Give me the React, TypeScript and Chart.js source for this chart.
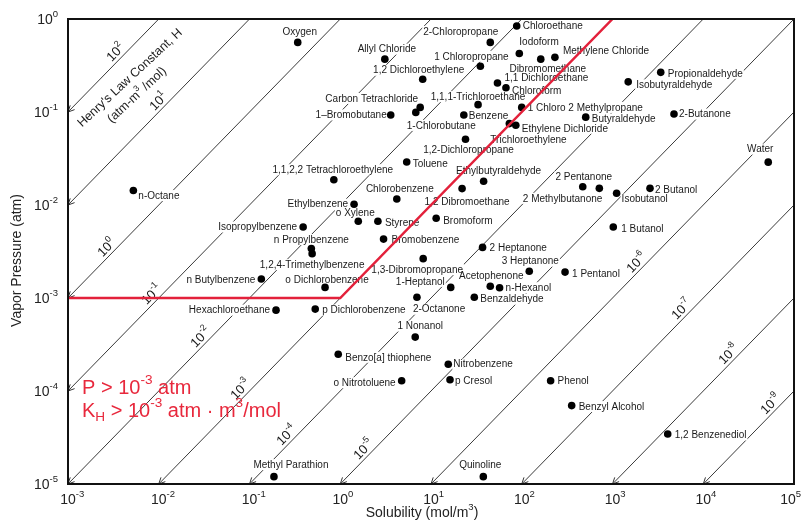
import React, { useEffect, useRef } from "react";
import { Chart, registerables } from "chart.js";

Chart.register(...registerables);

const FONT = "'Liberation Sans', Arial, Helvetica, sans-serif";

// ---------- data ----------
const compounds = [
  "Oxygen", "Allyl Chloride", "1,2 Dichloroethylene", "2-Chloropropane", "1 Chloropropane",
  "Chloroethane", "Iodoform", "Dibromomethane", "Methylene Chloride", "1,1 Dichloroethane",
  "Chloroform", "1,1,1-Trichloroethane", "Carbon Tetrachloride", "1-Chlorobutane", "1–Bromobutane",
  "Benzene", "1 Chloro 2 Methylpropane", "Ethylene Dichloride", "Trichloroethylene", "1,2-Dichloropropane",
  "Toluene", "Ethylbutyraldehyde", "1,2 Dibromoethane", "Chlorobenzene", "Bromoform",
  "1,1,2,2 Tetrachloroethylene", "Ethylbenzene", "o Xylene", "Styrene", "Isopropylbenzene",
  "n Propylbenzene", "1,2,4-Trimethylbenzene", "Bromobenzene", "n Butylbenzene", "o Dichlorobenzene",
  "1,3-Dibromopropane", "1-Heptanol", "2-Octanone", "p Dichlorobenzene", "Hexachloroethane",
  "1 Nonanol", "2 Heptanone", "3 Heptanone", "Acetophenone", "n-Hexanol",
  "Benzaldehyde", "1 Pentanol", "1 Butanol", "2 Pentanone", "2 Methylbutanone",
  "Isobutanol", "2 Butanol", "Water", "Propionaldehyde", "Isobutyraldehyde",
  "Butyraldehyde", "2-Butanone", "Benzo[a] thiophene", "o Nitrotoluene", "Nitrobenzene",
  "p Cresol", "Methyl Parathion", "Quinoline", "Phenol", "Benzyl Alcohol",
  "1,2 Benzenediol", "n-Octane",
];

// solubility, mol/m^3
const solubility = [
  0.34, 3.1, 8.1, 45, 35,
  88, 94, 162, 232, 54,
  67, 33, 7.6, 6.8, 3.6,
  23, 100, 86, 73, 24,
  5.4, 38, 22, 4.2, 11.4,
  0.85, 1.42, 1.58, 2.6, 0.39,
  0.48, 0.49, 3.0, 0.135, 0.68,
  8.2, 16.5, 7.0, 0.53, 0.196,
  6.7, 37, 121, 45, 57,
  30, 300, 1020, 470, 716,
  1110, 2590, 52000, 3400, 1490,
  507, 4760, 0.95, 4.75, 15.5,
  16.2, 0.186, 37.7, 208, 355,
  4060, 0.00525,
];

// vapor pressure, atm
const vaporPressure = [
  0.56, 0.37, 0.225, 0.56, 0.31,
  0.84, 0.425, 0.37, 0.387, 0.205,
  0.182, 0.12, 0.112, 0.099, 0.093,
  0.093, 0.112, 0.072, 0.075, 0.051,
  0.029, 0.018, 0.015, 0.0116, 0.0072,
  0.0187, 0.0102, 0.0067, 0.0067, 0.0058,
  0.0034, 0.003, 0.0043, 0.0016, 0.0013,
  0.00265, 0.0013, 0.00102, 0.00076, 0.00074,
  0.00038, 0.0035, 0.00194, 0.00134, 0.00129,
  0.00102, 0.0019, 0.0058, 0.0157, 0.0151,
  0.0134, 0.0151, 0.0289, 0.267, 0.211,
  0.088, 0.095, 0.000248, 0.000129, 0.000194,
  0.000132, 0.000012, 0.000012, 0.000129, 0.0000697,
  0.0000345, 0.0143,
];

// label placement (layout only): alignment and pixel offset from the dot
const labelAlign = [
  "c", "c", "c", "r", "c",
  "l", "l", "c", "l", "l",
  "l", "c", "r", "l", "r",
  "l", "l", "l", "l", "c",
  "l", "c", "c", "c", "l",
  "c", "r", "c", "l", "r",
  "c", "c", "l", "r", "c",
  "c", "r", "l", "l", "r",
  "c", "l", "c", "c", "l",
  "l", "l", "l", "c", "r",
  "l", "l", "c", "l", "l",
  "l", "l", "l", "r", "l",
  "l", "c", "c", "l", "l",
  "l", "l",
];
const labelDx = [
  2, 2, -4, 8, -9,
  6, 0, 7, 8, 7,
  6, 0, -2, -9, -4,
  5, 6, 6, -19, 3,
  6, 15, 5, 3, 7,
  -1, -6, -3, 7, -6,
  0, 0, 8, -6, 2,
  -6, -6, -4, 7, -6,
  5, 7, 1, 1, 6,
  6, 7, 8, 1, 3,
  5, 5, -8, 7, 8,
  6, 5, 7, -6, 5,
  5, 17, -3, 7, 7,
  7, 5,
];
const labelDy = [
  -11, -10, -9, -11, -10,
  0, -12, 10, -7, -5,
  3, -8, -9, 13, 0,
  1, 0, 3, 16, 11,
  2, -11, 13, -10, 2,
  -10, 0, -8, 2, 0,
  -9, 11, 1, 1, -8,
  11, -6, 12, 1, 0,
  -11, 0, -10, -10, 0,
  2, 2, 2, -10, 10,
  6, 1, -13, 1, 3,
  2, 0, 3, 2, 0,
  1, -12, -12, 0, 1,
  1, 5,
];

// Henry's law constant lines (atm·m³/mol): P = H · S
const henryConstants = [1e2, 1e1, 1e0, 1e-1, 1e-2, 1e-3, 1e-4, 1e-5, 1e-6, 1e-7, 1e-8, 1e-9];
const henryExponents = ["2", "1", "0", "-1", "-2", "-3", "-4", "-5", "-6", "-7", "-8", "-9"];
const henryLabelS = [0.00384, 0.0114, 0.00305, 0.00957, 0.0332, 0.0914, 0.294, 2.07, 2110, 6620, 21800, 63400];

// red screening boundary: P > 1e-3 atm and K_H > 1e-3
const limitLineS = [1e-3, 1, 1e3];
const limitLineP = [1e-3, 1e-3, 1];

// axes
const xTickExps = [-3, -2, -1, 0, 1, 2, 3, 4, 5];
const yTickExps = [0, -1, -2, -3, -4, -5];
const xMin = 1e-3, xMax = 1e5, yMin = 1e-5, yMax = 1;

// ---------- helpers ----------
type Part = [string, number]; // 0 normal, 1 sup, 2 sub

function partsWidth(ctx: CanvasRenderingContext2D, parts: Part[], size: number) {
  let w = 0;
  for (const p of parts) {
    ctx.font = `${p[1] === 0 ? size : size * 0.68}px ${FONT}`;
    w += ctx.measureText(p[0]).width;
  }
  return w;
}

function drawParts(ctx: CanvasRenderingContext2D, parts: Part[], x: number, y: number, size: number, color: string) {
  ctx.textAlign = "left";
  ctx.textBaseline = "middle";
  ctx.fillStyle = color;
  let cx = x;
  for (const p of parts) {
    const s = p[1] === 0 ? size : size * 0.68;
    ctx.font = `${s}px ${FONT}`;
    const dy = p[1] === 1 ? -size * 0.4 : p[1] === 2 ? size * 0.3 : 0;
    ctx.fillText(p[0], cx, y + dy);
    cx += ctx.measureText(p[0]).width;
  }
}

const overlayPlugin = {
  id: "overlay",
  beforeDatasetDraw(chart: any, args: any) {
    if (args.index !== 1) return;
    const ctx: CanvasRenderingContext2D = chart.ctx;
    const xs = chart.scales.x;
    const ys = chart.scales.y;
    ctx.save();

    // arrowheads at the lower-left ends of Henry lines
    ctx.strokeStyle = "#333";
    ctx.lineWidth = 1;
    henryConstants.forEach((h) => {
      const s0 = Math.max(xMin, yMin / h);
      const x0 = xs.getPixelForValue(s0), y0 = ys.getPixelForValue(h * s0);
      const x1 = xs.getPixelForValue(s0 * 10), y1 = ys.getPixelForValue(h * s0 * 10);
      const a = Math.atan2(y1 - y0, x1 - x0);
      ctx.beginPath();
      for (const d of [0.45, -0.45]) {
        ctx.moveTo(x0, y0);
        ctx.lineTo(x0 + 7 * Math.cos(a + d), y0 + 7 * Math.sin(a + d));
      }
      ctx.stroke();
    });

    // Henry line labels
    henryConstants.forEach((h, i) => {
      const s = henryLabelS[i];
      const px = xs.getPixelForValue(s), py = ys.getPixelForValue(h * s);
      const px2 = xs.getPixelForValue(s * 10), py2 = ys.getPixelForValue(h * s * 10);
      const a = Math.atan2(py2 - py, px2 - px);
      const cx = px + 9 * Math.sin(a);
      const cy = py - 9 * Math.cos(a);
      ctx.save();
      ctx.translate(cx, cy);
      ctx.rotate(a);
      const parts: Part[] = [["10", 0], [henryExponents[i], 1]];
      const w = partsWidth(ctx, parts, 13);
      drawParts(ctx, parts, -w / 2, 2, 13, "#1a1a1a");
      ctx.restore();
    });

    // Henry's law title along the top-left line
    const titleAt = (s: number, p: number, parts: Part[], size: number) => {
      const px = xs.getPixelForValue(s), py = ys.getPixelForValue(p);
      ctx.save();
      ctx.translate(px, py);
      ctx.rotate((-43 * Math.PI) / 180);
      const w = partsWidth(ctx, parts, size);
      drawParts(ctx, parts, -w / 2, 0, size, "#1a1a1a");
      ctx.restore();
    };
    titleAt(0.00482, 0.232, [["Henry's Law Constant, H", 0]], 12.5);
    titleAt(0.00575, 0.152, [["(atm-m", 0], ["3", 1], [" /mol)", 0]], 12.5);

    // compound labels with white knock-out behind the text
    ctx.font = `10px ${FONT}`;
    const boxes = compounds.map((name, i) => {
      const px = xs.getPixelForValue(solubility[i]) + labelDx[i];
      const py = ys.getPixelForValue(vaporPressure[i]) + labelDy[i];
      const w = ctx.measureText(name).width;
      const left = labelAlign[i] === "l" ? px : labelAlign[i] === "r" ? px - w : px - w / 2;
      return { name, left, py, w };
    });
    ctx.fillStyle = "#ffffff";
    boxes.forEach((b) => ctx.fillRect(b.left - 1, b.py - 5.5, b.w + 2, 11));
    ctx.fillStyle = "#1a1a1a";
    ctx.textAlign = "left";
    ctx.textBaseline = "middle";
    boxes.forEach((b) => ctx.fillText(b.name, b.left, b.py + 0.5));

    ctx.restore();
  },
  afterDraw(chart: any) {
    const ctx: CanvasRenderingContext2D = chart.ctx;
    const xs = chart.scales.x;
    const ys = chart.scales.y;
    const area = chart.chartArea;
    ctx.save();

    // frame
    ctx.strokeStyle = "#111";
    ctx.lineWidth = 2;
    ctx.strokeRect(area.left, area.top, area.right - area.left, area.bottom - area.top);

    // x tick labels
    xTickExps.forEach((e) => {
      const x = xs.getPixelForValue(Math.pow(10, e));
      const parts: Part[] = [["10", 0], [String(e), 1]];
      const wAll = partsWidth(ctx, parts, 14);
      ctx.font = `14px ${FONT}`;
      const w10 = ctx.measureText("10").width;
      const left = Math.min(x - w10 / 2, chart.width - 3 - wAll);
      drawParts(ctx, parts, left, area.bottom + 16, 14, "#222");
    });
    // y tick labels
    yTickExps.forEach((e) => {
      const y = ys.getPixelForValue(Math.pow(10, e));
      const parts: Part[] = [["10", 0], [String(e), 1]];
      const w = partsWidth(ctx, parts, 14);
      drawParts(ctx, parts, area.left - 10 - w, y + 1, 14, "#222");
    });

    // axis titles
    const xt: Part[] = [["Solubility (mol/m", 0], ["3", 1], [")", 0]];
    const wx = partsWidth(ctx, xt, 14);
    drawParts(ctx, xt, (area.left + area.right) / 2 - 9 - wx / 2, area.bottom + 29, 14, "#222");
    ctx.save();
    ctx.translate(17, (area.top + area.bottom) / 2 + 9);
    ctx.rotate(-Math.PI / 2);
    ctx.font = `14px ${FONT}`;
    ctx.fillStyle = "#222";
    ctx.textAlign = "center";
    ctx.textBaseline = "middle";
    ctx.fillText("Vapor Pressure (atm)", 0, 0);
    ctx.restore();

    // red criteria text
    const red = "#e8283c";
    drawParts(ctx, [["P > 10", 0], ["-3", 1], [" atm", 0]], area.left + 14, area.top + 369, 20, red);
    drawParts(
      ctx,
      [["K", 0], ["H", 2], [" > 10", 0], ["-3", 1], [" atm · m", 0], ["3", 1], ["/mol", 0]],
      area.left + 14,
      area.top + 392,
      20,
      red
    );

    ctx.restore();
  },
};

export default function App() {
  const canvasRef = useRef<HTMLCanvasElement | null>(null);

  useEffect(() => {
    if (!canvasRef.current) return;
    const henryDatasets = henryConstants.map((h) => {
      const s0 = Math.max(xMin, yMin / h);
      const s1 = Math.min(xMax, yMax / h);
      return {
        data: [{ x: s0, y: h * s0 }, { x: s1, y: h * s1 }],
        showLine: true,
        borderColor: "#3a3a3a",
        borderWidth: 1,
        pointRadius: 0,
        fill: false,
        order: 2,
      };
    });
    const chart = new Chart(canvasRef.current, {
      type: "scatter",
      data: {
        datasets: [
          {
            data: limitLineS.map((s, i) => ({ x: s, y: limitLineP[i] })),
            showLine: true,
            borderColor: "#e3213b",
            borderWidth: 2.5,
            pointRadius: 0,
            fill: false,
            order: 0,
          },
          {
            data: solubility.map((s, i) => ({ x: s, y: vaporPressure[i] })),
            pointRadius: 3.8,
            pointBackgroundColor: "#000",
            pointBorderWidth: 0,
            showLine: false,
            order: 1,
          },
          ...henryDatasets,
        ] as any,
      },
      options: {
        responsive: false,
        animation: false,
        devicePixelRatio: 1,
        events: [],
        layout: { padding: { left: 68, top: 19, right: 10, bottom: 40 } },
        plugins: { legend: { display: false }, tooltip: { enabled: false } },
        scales: {
          x: { type: "logarithmic", min: xMin, max: xMax, display: false },
          y: { type: "logarithmic", min: yMin, max: yMax, display: false },
        },
      } as any,
      plugins: [overlayPlugin],
    });
    return () => chart.destroy();
  }, []);

  return (
    <div style={{ position: "absolute", left: 0, top: 0, width: 804, height: 524, background: "#fff" }}>
      <canvas ref={canvasRef} width={804} height={524} />
    </div>
  );
}
